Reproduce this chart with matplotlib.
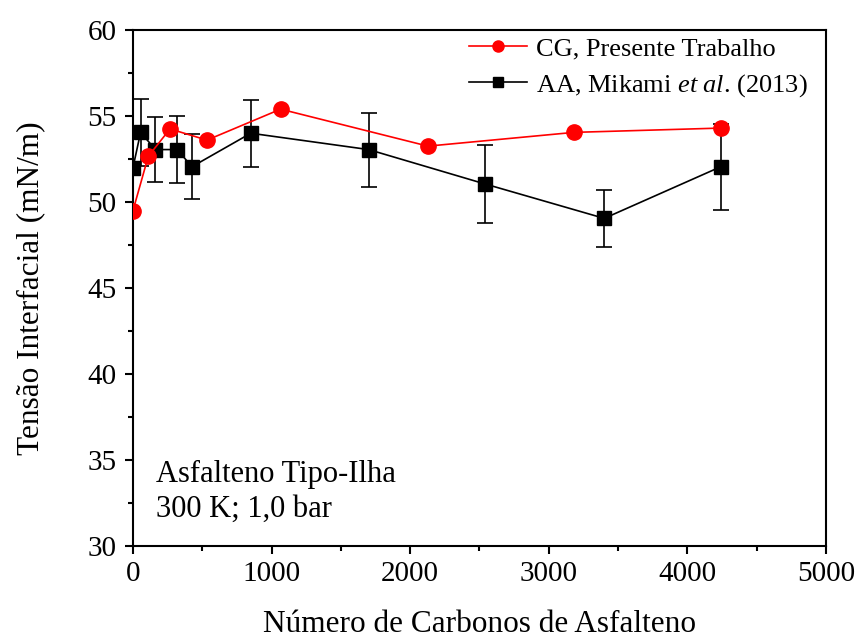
import matplotlib
matplotlib.use("Agg")
import matplotlib.pyplot as plt
from matplotlib.ticker import MultipleLocator
from matplotlib.lines import Line2D

plt.rcParams['font.family'] = ['Liberation Serif', 'DejaVu Serif']
plt.rcParams['mathtext.fontset'] = 'custom'
plt.rcParams['mathtext.rm'] = 'Liberation Serif'
plt.rcParams['mathtext.it'] = 'Liberation Serif:italic'

# CG, present work
cg_x = [0, 110, 267, 534, 1065, 2128, 3182, 4242]
cg_y = [49.5, 52.65, 54.25, 53.6, 55.4, 53.25, 54.05, 54.3]

# AA, Mikami et al. (2013)
aa_x = [0, 55, 162, 320, 425, 850, 1700, 2540, 3400, 4240]
aa_y = [52.0, 54.05, 53.05, 53.05, 52.05, 54.0, 53.05, 51.05, 49.05, 52.05]
aa_err = [0.0, 1.95, 1.9, 1.95, 1.9, 1.95, 2.15, 2.25, 1.65, 2.5]

labels = ['CG, Presente Trabalho', r'AA, Mikami $\mathit{et\ al}$. (2013)']

fig = plt.figure(figsize=(8.59, 6.39), dpi=100)
ax = fig.add_axes([0.1548, 0.1455, 0.8068, 0.8075])

ax.errorbar(aa_x, aa_y, yerr=aa_err, color='black', marker='s', markersize=10,
            linewidth=1.2, elinewidth=1.2, capsize=6, capthick=1.2, zorder=3)
ax.plot(cg_x, cg_y, color='red', marker='o', markersize=11, linewidth=1.2, zorder=4)

ax.set_xlim(0, 5000)
ax.set_ylim(30, 60)
ax.xaxis.set_major_locator(MultipleLocator(1000))
ax.xaxis.set_minor_locator(MultipleLocator(500))
ax.yaxis.set_major_locator(MultipleLocator(5))
ax.yaxis.set_minor_locator(MultipleLocator(2.5))
ax.tick_params(which='major', direction='out', length=6, width=1.5, labelsize=21, pad=3)
ax.tick_params(axis='y', which='major', pad=6)
ax.tick_params(axis='x', which='major', pad=5)
ax.tick_params(which='minor', direction='out', length=3.5, width=1.5)
ax.tick_params(top=False, right=False, which='both')
for s in ax.spines.values():
    s.set_linewidth(1.5)

ax.set_xlabel('Número de Carbonos de Asfalteno', fontsize=22.5, labelpad=16)
ax.set_ylabel('Tensão Interfacial (mN/m)', fontsize=22.5, labelpad=30)

ax.text(0.033, 0.125, 'Asfalteno Tipo-Ilha', transform=ax.transAxes, fontsize=22)
ax.text(0.033, 0.057, '300 K; 1,0 bar', transform=ax.transAxes, fontsize=22)

h_cg = Line2D([], [], color='red', marker='o', markersize=8, linewidth=1.2)
h_aa = Line2D([], [], color='black', marker='s', markersize=7, linewidth=1.2)
ax.legend([h_cg, h_aa], labels, loc='upper right', bbox_to_anchor=(0.983, 1.0),
          frameon=False, fontsize=19,
          handlelength=2.2, handletextpad=0.35, borderaxespad=0.0,
          borderpad=0.25, labelspacing=0.45)

fig.savefig('out.png', dpi=100)
